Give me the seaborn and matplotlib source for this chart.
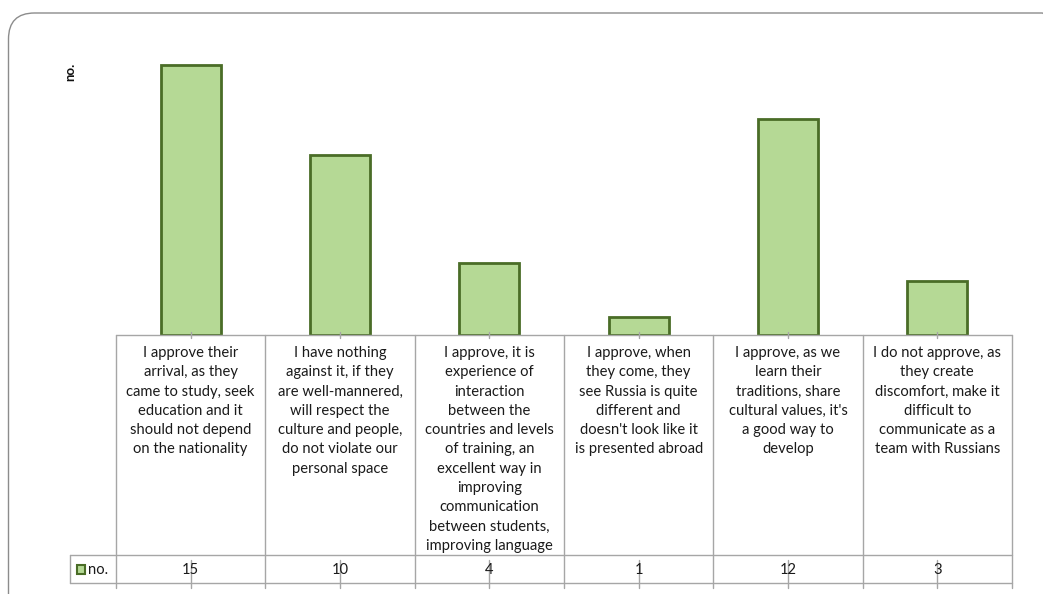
import matplotlib
matplotlib.use("Agg")
import matplotlib.pyplot as plt
from matplotlib.patches import FancyBboxPatch, Rectangle
from matplotlib.lines import Line2D
import seaborn as sns
import pandas as pd

# Survey answers (category labels) and number of respondents
categories = [
    "I approve their\narrival, as they\ncame to study, seek\neducation and it\nshould not depend\non the nationality",
    "I have nothing\nagainst it, if they\nare well-mannered,\nwill respect the\nculture and people,\ndo not violate our\npersonal space",
    "I approve, it is\nexperience of\ninteraction\nbetween the\ncountries and levels\nof training, an\nexcellent way in\nimproving\ncommunication\nbetween students,\nimproving language",
    "I approve, when\nthey come, they\nsee Russia is quite\ndifferent and\ndoesn't look like it\nis presented abroad",
    "I approve, as we\nlearn their\ntraditions, share\ncultural values, it's\na good way to\ndevelop",
    "I do not approve, as\nthey create\ndiscomfort, make it\ndifficult to\ncommunicate as a\nteam with Russians",
]
counts = [15, 10, 4, 1, 12, 3]
series_name = "no."

df = pd.DataFrame({"answer": range(len(categories)), "count": counts})

W, H = 1043, 594
sns.set_theme(style="white")
plt.rcParams["font.family"] = ["Lato", "DejaVu Sans"]

fig = plt.figure(figsize=(W / 100, H / 100), dpi=100)
fig.patch.set_facecolor("white")

# plot area in pixel terms: left, baseline, right, top
L, B, R, T = 116, 334.5, 1012, 46.5
ax = fig.add_axes([L / W, 1 - B / H, (R - L) / W, (B - T) / H])
ax.patch.set_alpha(0)

fill = "#b5d995"
edge = "#4a6d27"
sns.barplot(data=df, x="answer", y="count", ax=ax, color=fill,
            width=0.4, edgecolor=edge, linewidth=2, saturation=1)
ax.set_ylim(0, 16)
ax.set_xlim(-0.5, len(categories) - 0.5)
ax.set_yticks([])
ax.set_xticks([])
ax.set_xlabel("")
ax.set_ylabel("")
for s in ax.spines.values():
    s.set_visible(False)

grid = "#a6a6a6"
txt = "#1a1a1a"
fs = 10.6
fx = lambda px: px / W
fy = lambda py: 1 - py / H


def fline(x0, y0, x1, y1, lw=1.0, color=grid):
    fig.add_artist(Line2D([fx(x0), fx(x1)], [fy(y0), fy(y1)],
                          color=color, lw=lw, transform=fig.transFigure))


# category centres / edges in pixel space from the axes scale
def xpix(v):
    disp = ax.transData.transform((v, 0))
    return fig.transFigure.inverted().transform(disp)[0] * W


fig.canvas.draw()
header_bot, table_bot, tick_bot = 555, 583, 588
legend_left = 70

# data-table grid
fline(L, B, R, B)
fline(L, header_bot, R, header_bot)
fline(legend_left, header_bot, L, header_bot)
fline(legend_left, table_bot, R, table_bot)
fline(legend_left, header_bot, legend_left, table_bot)
for i in range(len(categories) + 1):
    xe = xpix(i - 0.5)
    fline(xe, B, xe, tick_bot)

# tick marks at category centres
for i in range(len(categories)):
    xc = xpix(i)
    fline(xc, B - 3, xc, B + 3.5)
    fline(xc, 560, xc, tick_bot)

# category texts and values
for i, (lab, v) in enumerate(zip(categories, counts)):
    xc = xpix(i)
    fig.text(fx(xc), fy(346), lab, ha="center", va="top", fontsize=fs,
             color=txt, linespacing=1.48)
    fig.text(fx(xc), fy(569.5), str(v), ha="center", va="center",
             fontsize=fs, color=txt)

# legend key inside the table
fig.add_artist(Rectangle((fx(77), fy(573.5)), 8 / W, 8.5 / H, transform=fig.transFigure,
                         facecolor=fill, edgecolor=edge, lw=1.5))
fig.text(fx(88), fy(569.5), series_name, ha="left", va="center",
         fontsize=fs, color=txt)

# axis title
fig.text(fx(70), fy(72), series_name, rotation=90, ha="center", va="center",
         fontsize=9.5, fontweight="bold", color="#111111")

# rounded chart-area frame (inch units so the corner stays circular)
fig.add_artist(FancyBboxPatch((8.5 / 100, (H - 640) / 100), (1068 - 8.5) / 100, (640 - 13) / 100,
                              boxstyle="round,pad=0,rounding_size=0.26",
                              transform=fig.dpi_scale_trans, facecolor="none",
                              edgecolor="#8c8c8c", lw=1.0))

fig.savefig("out.png", dpi=100)
